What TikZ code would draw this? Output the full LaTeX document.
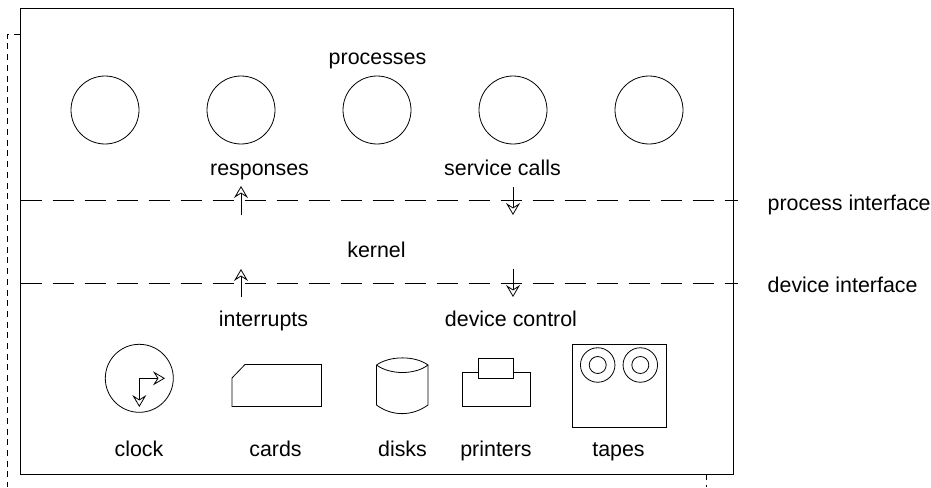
\documentclass[tikz,border=0pt]{standalone}
\usepackage{fontspec}
\setmainfont{Liberation Sans}
\usetikzlibrary{arrows.meta}
\tikzset{
  lbl/.style={inner sep=0pt,anchor=base,font=\fontsize{21.4}{25}\selectfont},
  lblleft/.style={lbl,anchor=base west},
  thin line/.style={draw=black,line width=0.8pt},
  ifdash/.style={draw=black,line width=0.8pt,dash pattern=on 21.5pt off 10.5pt},
  outerdash/.style={draw=black,line width=1pt,dash pattern=on 6pt off 4.7pt},
  openarrow/.style={draw=black,line width=0.8pt,-{Stealth[open,length=12pt,width=14pt,inset=4.5pt,fill=white]}},
}
\begin{document}
\begin{tikzpicture}[x=1pt,y=-1pt]
\useasboundingbox (0,0) rectangle (931,487);
% outer dashed box
\draw[outerdash] (20,35) -- (7,35) -- (7,487);
\draw[outerdash] (706,474) -- (706,487);
\draw[thin line] (20.5,8) rectangle (733.5,474);
% process circles
\foreach \n/\cx in {a/105,b/241,c/377,d/513,e/649}
  \node[draw,circle,line width=0.8pt,minimum size=68pt,inner sep=0pt] (proc\n) at (\cx,110) {};
% interfaces
\coordinate (pl) at (20.7,200); \coordinate (pr) at (738,200);
\coordinate (dl) at (20.7,283); \coordinate (dr) at (738,283);
\draw[ifdash] (pl) -- (pr);
\draw[ifdash] (dl) -- (dr);
% arrows
\coordinate (r0) at (241,215); \coordinate (r1) at (241,186);
\coordinate (s0) at (513,187); \coordinate (s1) at (513,215);
\coordinate (i0) at (241,297); \coordinate (i1) at (241,269);
\coordinate (c0) at (513,269); \coordinate (c1) at (513,297);
\draw[openarrow] (r0) -- (r1);
\draw[openarrow] (s0) -- (s1);
\draw[openarrow] (i0) -- (i1);
\draw[openarrow] (c0) -- (c1);
% clock
\node[draw,circle,line width=0.8pt,minimum size=68pt,inner sep=0pt] (clockface) at (139.3,378.3) {};
\coordinate (hand) at (139.3,378.3);
\coordinate (handr) at (165,378.3);
\coordinate (handd) at (139.3,407);
\draw[openarrow] (hand) -- (handr);
\draw[openarrow] (hand) -- (handd);
% cards
\draw[thin line,line join=miter] (232,378) -- (245,364.5) -- (321.5,364.5) -- (321.5,406.5) -- (232,406.5) -- cycle;
% disks
\draw[thin line] (376.5,365) .. controls (390,355.5) and (415,355.5) .. (428,365)
  .. controls (415,375) and (390,375) .. (376.5,365);
\draw[thin line] (376.5,365) -- (376.5,405) .. controls (392,416.5) and (412,416.5) .. (428,405) -- (428,365);
% printer
\draw[thin line] (462,372) rectangle (530,406);
\node[draw,fill=white,line width=0.8pt,minimum width=34.5pt,minimum height=20pt,inner sep=0pt] (printertop) at (496,368.5) {};
% tapes
\draw[thin line] (572,344) rectangle (666,427);
\foreach \n/\cx in {l/597.7,r/640.3}{
  \node[draw,circle,line width=0.8pt,minimum size=34.5pt,inner sep=0pt] (reel\n) at (\cx,365) {};
  \node[draw,circle,line width=0.8pt,minimum size=17pt,inner sep=0pt] (hub\n) at (\cx,365) {};
}
% labels
\node[lbl] (tprocesses) at (377.5,65) {processes};
\node[lbl] (tresponses) at (259.5,175) {responses};
\node[lbl] (tservice) at (502.5,175) {service calls};
\node[lbl] (tkernel) at (376.5,257.5) {kernel};
\node[lbl] (tinterrupts) at (263.5,326) {interrupts};
\node[lbl] (tdevice) at (511,326) {device control};
\node[lbl] (tclock) at (139,456) {clock};
\node[lbl] (tcards) at (275.5,456) {cards};
\node[lbl] (tdisks) at (402.5,456) {disks};
\node[lbl] (tprinters) at (496,456) {printers};
\node[lbl] (ttapes) at (618.5,456) {tapes};
\node[lblleft] (tpi) at (767.5,210) {process interface};
\node[lblleft] (tdi) at (767.5,292) {device interface};
\end{tikzpicture}
\end{document}
